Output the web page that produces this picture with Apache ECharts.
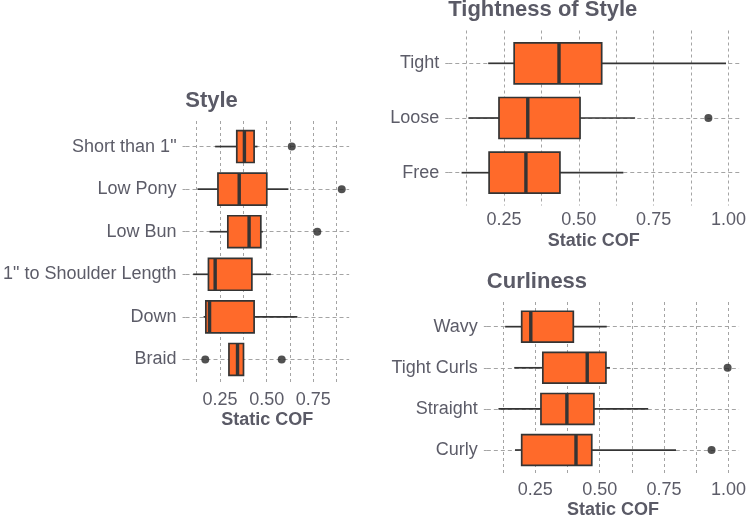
<!DOCTYPE html>
<html><head><meta charset="utf-8">
<script src="https://cdn.jsdelivr.net/npm/echarts@6/dist/echarts.min.js"></script>
<style>html,body{margin:0;padding:0;background:#fff}#c{width:749px;height:520px}</style>
</head><body><div id="c"></div>
<script>
// ---------- data (stats = [lower whisker, Q1, median, Q3, upper whisker]) ----------
const styleCats = ['Short than 1"', 'Low Pony', 'Low Bun', '1" to Shoulder Length', 'Down', 'Braid'];
const styleStats = [
  [0.223, 0.339, 0.380, 0.432, 0.450],
  [0.128, 0.238, 0.352, 0.500, 0.616],
  [0.193, 0.291, 0.405, 0.468, 0.479],
  [0.105, 0.187, 0.223, 0.420, 0.522],
  [0.161, 0.173, 0.193, 0.432, 0.664],
  [0.297, 0.297, 0.343, 0.375, 0.375]
];
const styleOutliers = [[0.634], [0.902], [0.771], [], [], [0.170, 0.580]];

const tightCats = ['Tight', 'Loose', 'Free'];
const tightStats = [
  [0.191, 0.275, 0.420, 0.558, 0.960],
  [0.127, 0.226, 0.319, 0.488, 0.666],
  [0.105, 0.194, 0.313, 0.423, 0.628]
];
const tightOutliers = [[], [0.903], []];

const curlCats = ['Wavy', 'Tight Curls', 'Straight', 'Curly'];
const curlStats = [
  [0.128, 0.190, 0.224, 0.383, 0.508],
  [0.162, 0.269, 0.435, 0.505, 0.520],
  [0.103, 0.262, 0.359, 0.460, 0.663],
  [0.165, 0.190, 0.393, 0.452, 0.767]
];
const curlOutliers = [[], [0.960], [], [0.900]];

const tickValues = [0.25, 0.5, 0.75, 1.0];
const tickLabels = ['0.25', '0.50', '0.75', '1.00'];
const axisTitle = 'Static COF';

// ---------- layout ----------
const FONT = '"Liberation Sans", Arial, Helvetica, sans-serif';
const TXT = '#5c5c68';
const TTL = '#5a5a66';
const GRID = '#a4a4a4';
const FILL = '#FF6A2A';
const EDGE = '#343434';

const panels = [
  {title: 'Style', cats: styleCats, stats: styleStats, outs: styleOutliers,
   px0: 173.3, ppu: 186.7, xmin: 0.064, xmax: 0.942, top: 121, bottom: 385, bgMax: 1.0, maxLine: false},
  {title: 'Tightness of Style', cats: tightCats, stats: tightStats, outs: tightOutliers,
   px0: 429.1, ppu: 309.3, xmin: 0.062, xmax: 1.003, top: 30.5, bottom: 205.5, bgMax: 1.0, maxLine: true},
  {title: 'Curliness', cats: curlCats, stats: curlStats, outs: curlOutliers,
   px0: 470.9, ppu: 267.4, xmin: 0.0596, xmax: 1.0029, top: 302, bottom: 474.7, bgMax: 1.0, maxLine: true}
];

const grid = [], xAxis = [], yAxis = [], series = [], graphic = [];

function renderBox(params, api) {
  const c = api.value(0);
  const lo = api.coord([api.value(1), c]);
  const q1 = api.coord([api.value(2), c]);
  const md = api.coord([api.value(3), c]);
  const q3 = api.coord([api.value(4), c]);
  const hi = api.coord([api.value(5), c]);
  const band = Math.abs(api.size([0, 1])[1]);
  const h = band * 0.75;
  const y = q1[1];
  const ls = {stroke: EDGE, lineWidth: 1.7};
  return {type: 'group', children: [
    {type: 'line', shape: {x1: lo[0], y1: y, x2: q1[0], y2: y}, style: ls},
    {type: 'line', shape: {x1: q3[0], y1: y, x2: hi[0], y2: y}, style: ls},
    {type: 'rect', shape: {x: q1[0], y: y - h / 2, width: q3[0] - q1[0], height: h},
     style: {fill: FILL, stroke: EDGE, lineWidth: 1.7}},
    {type: 'line', shape: {x1: md[0], y1: y - h / 2, x2: md[0], y2: y + h / 2},
     style: {stroke: EDGE, lineWidth: 3.4}}
  ]};
}

panels.forEach((p, i) => {
  const n = p.cats.length;
  const spacing = (p.bottom - p.top) / (n - 1 + 1.2);
  const c0 = p.top + 0.6 * spacing, c1 = p.bottom - 0.6 * spacing;
  const pl = p.px0 + p.xmin * p.ppu, pr = p.px0 + p.xmax * p.ppu;
  const bgRight = p.px0 + p.bgMax * p.ppu;
  grid.push({left: p.px0, width: bgRight - p.px0, top: p.top, height: p.bottom - p.top, containLabel: false});
  grid.push({left: pl, width: pr - pl, top: c0, height: c1 - c0, containLabel: false});
  xAxis.push({
    type: 'value', gridIndex: 2 * i, min: 0, max: p.bgMax, interval: 0.125,
    axisLine: {show: false}, axisTick: {show: false},
    splitLine: {show: true, showMinLine: false, showMaxLine: p.maxLine,
      lineStyle: {color: GRID, width: 1, type: [3, 3]}},
    axisLabel: {
      margin: 6, color: TXT, fontSize: 18, fontFamily: FONT,
      showMaxLabel: true,
      formatter: v => {
        const k = tickValues.findIndex(t => Math.abs(t - v) < 1e-6);
        if (k < 0 || v < p.xmin || v > p.xmax + 0.01) return '';
        return tickLabels[k];
      }
    }
  });
  xAxis.push({type: 'value', gridIndex: 2 * i + 1, min: p.xmin, max: p.xmax, show: false});
  yAxis.push({type: 'value', gridIndex: 2 * i, min: 0, max: 1, show: false});
  yAxis.push({
    type: 'category', gridIndex: 2 * i + 1, data: p.cats, inverse: true, boundaryGap: false,
    axisLine: {show: false},
    axisTick: {show: true, length: 6, lineStyle: {color: GRID, type: [3, 3]}},
    splitLine: {show: true, lineStyle: {color: GRID, width: 1, type: [4, 3]}},
    axisLabel: {margin: 9, color: TXT, fontSize: 18, fontFamily: FONT}
  });
  series.push({
    type: 'custom', xAxisIndex: 2 * i + 1, yAxisIndex: 2 * i + 1,
    renderItem: renderBox,
    encode: {x: [1, 2, 3, 4, 5], y: 0},
    data: p.stats.map((s, k) => [k].concat(s)),
    z: 3, silent: true
  });
  const pts = [];
  p.outs.forEach((arr, k) => arr.forEach(v => pts.push([v, k])));
  series.push({
    type: 'scatter', xAxisIndex: 2 * i + 1, yAxisIndex: 2 * i + 1,
    data: pts, symbol: 'circle', symbolSize: 8,
    itemStyle: {color: '#262626'}, z: 4, silent: true, clip: false
  });
  graphic.push({type: 'text', x: pl, y: p.top - 20.5,
    style: {text: p.title, fontSize: 22, fontWeight: 'bold', fontFamily: FONT, fill: TTL,
      textAlign: 'left', textVerticalAlign: 'middle', align: 'left', verticalAlign: 'middle'}});
  graphic.push({type: 'text', x: (pl + pr) / 2, y: p.bottom + 35.5,
    style: {text: axisTitle, fontSize: 18, fontWeight: 'bold', fontFamily: FONT, fill: TTL,
      textAlign: 'center', textVerticalAlign: 'middle', align: 'center', verticalAlign: 'middle'}});
});

const chart = echarts.init(document.getElementById('c'), null, {renderer: 'canvas'});
chart.setOption({
  backgroundColor: '#ffffff',
  animation: false,
  grid, xAxis, yAxis, series, graphic
});
</script>
</body></html>
